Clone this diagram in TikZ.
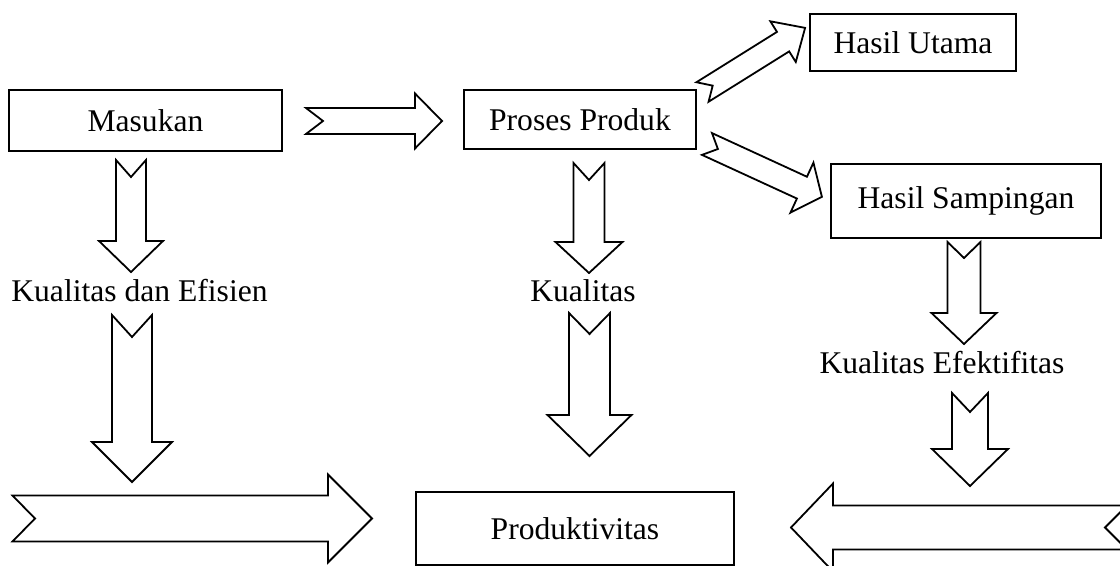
\documentclass[tikz,border=0pt]{standalone}
\usepackage{fontspec}
\setmainfont{Liberation Serif}
\usetikzlibrary{positioning}

\tikzset{
  box/.style={draw, line width=0.9pt, inner sep=0pt},
  txt/.style={inner sep=0pt, anchor=base},
  arrowline/.style={draw, fill=white, line width=0.9pt, line join=miter},
  pics/fatarrow/.style args={#1/#2/#3/#4/#5}{code={
    \path[arrowline] (0,#2) -- (#1-#4,#2) -- (#1-#4,#3) -- (#1,0) -- (#1-#4,-#3)
      -- (#1-#4,-#2) -- (0,-#2) -- (#5,0) -- cycle;
  }}
}

\begin{document}
\begin{tikzpicture}[x=0.5pt,y=-0.5pt,font=\fontsize{15.8}{19}\selectfont]
    \useasboundingbox (0,0) rectangle (1120,566);
    \clip (0,0) rectangle (1120,566);
    \node[box, minimum width=136.5pt, minimum height=30.5pt] (masukan) at (145.5,120.5) {Masukan};
    \node[box, minimum width=116pt, minimum height=29.5pt] (proses) at (580,119.5) {Proses Produk};
    \node[box, minimum width=103pt, minimum height=28.5pt] (utama) at (913,42.5) {Hasil Utama};
    \node[box, minimum width=135pt, minimum height=37pt] (sampingan) at (966,201) {Hasil Sampingan};
    \node[box, minimum width=159pt, minimum height=36.5pt] (produktivitas) at (575,528.5) {Produktivitas};
    \node[txt] (efisien) at (139.5,302) {Kualitas dan Efisien};
    \node[txt] (kualitas) at (583,302) {Kualitas};
    \node[txt] (efektifitas) at (942,374) {Kualitas Efektifitas};
    \pic at (306,121) {fatarrow={136/13/27.5/27/17}};
    \pic[rotate=32] at (702.5,92) {fatarrow={121/11.5/24/26/12}};
    \pic[rotate=-24.7] at (707,144) {fatarrow={126.5/12/27.5/22/12}};
    \pic[rotate=-90] at (131,160) {fatarrow={112/15/32/31/17}};
    \pic[rotate=-90] at (132,315) {fatarrow={167/20/40/40/22}};
    \pic at (12.5,518.5) {fatarrow={359.5/23/44/44/22.5}};
    \pic[rotate=-90] at (589,163) {fatarrow={110/15.5/33.5/31/17}};
    \pic[rotate=-90] at (589.5,313) {fatarrow={143/20.5/42/41/21}};
    \pic[rotate=-90] at (964,242) {fatarrow={102/16.5/32.5/31/16}};
    \pic[rotate=-90] at (970,393) {fatarrow={93/18/38/37/19}};
    \pic[rotate=180] at (1127,527.5) {fatarrow={336/22/44/42/22}};
\end{tikzpicture}
\end{document}
